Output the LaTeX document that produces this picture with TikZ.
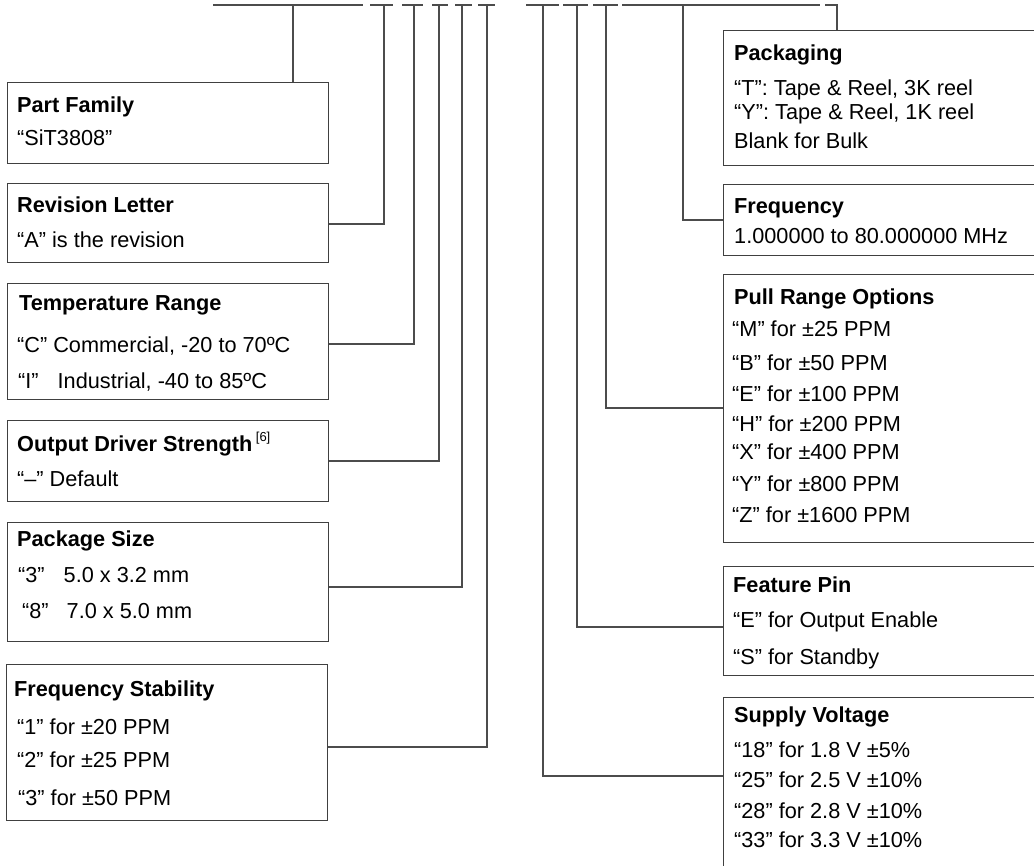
\documentclass[tikz,border=0pt]{standalone}
\usepackage{fontspec}
\setmainfont{Liberation Sans}
\tikzset{
  box/.style={draw=black!75, line width=1.2pt, inner sep=0pt, anchor=north west},
  wire/.style={black!70, line width=1.2pt},
  txt/.style={inner sep=0pt, anchor=base west, font=\fontsize{21.7}{26}\selectfont},
  hd/.style={txt, font=\fontsize{21.7}{26}\selectfont\bfseries},
}
\begin{document}
\begin{tikzpicture}[x=1pt, y=-1pt]
        \useasboundingbox (0,0) rectangle (1034,866);
        \clip (0,0) rectangle (1034,866);

        %code fields
        \draw[wire] (213,5) -- (363,5);
        \draw[wire] (370,5) -- (393,5);
        \draw[wire] (402,5) -- (423,5);
        \draw[wire] (432,5) -- (448,5);
        \draw[wire] (455,5) -- (472,5);
        \draw[wire] (478,5) -- (495,5);
        \draw[wire] (526,5) -- (559,5);
        \draw[wire] (563,5) -- (588,5);
        \draw[wire] (593,5) -- (618,5);
        \draw[wire] (622,5) -- (820,5);
        \draw[wire] (825,5) -- (838,5);

        \coordinate (tFam) at (293,5);
        \coordinate (tRev) at (384,5);
        \coordinate (tTemp) at (414,5);
        \coordinate (tDrv) at (439,5);
        \coordinate (tPkg) at (462,5);
        \coordinate (tStab) at (487,5);
        \coordinate (tVdd) at (543,5);
        \coordinate (tPin) at (577,5);
        \coordinate (tPull) at (606,5);
        \coordinate (tFreq) at (683,5);
        \coordinate (tPack) at (837,5);

        %left boxes
        \node[box, minimum width=321pt, minimum height=81pt] (fam) at (7,82) {};
        \node[box, minimum width=321pt, minimum height=79pt] (rev) at (7,183) {};
        \node[box, minimum width=321pt, minimum height=116pt] (temp) at (7,283) {};
        \node[box, minimum width=321pt, minimum height=81pt] (drv) at (7,420) {};
        \node[box, minimum width=321pt, minimum height=119pt] (pkg) at (7,522) {};
        \node[box, minimum width=321pt, minimum height=156pt] (stab) at (6,664) {};

        %right boxes
        \node[box, minimum width=340pt, minimum height=135pt] (packg) at (723,30) {};
        \node[box, minimum width=340pt, minimum height=71pt] (freq) at (723,184) {};
        \node[box, minimum width=340pt, minimum height=268pt] (pull) at (723,274) {};
        \node[box, minimum width=340pt, minimum height=109pt] (pin) at (723,566) {};
        \node[box, minimum width=340pt, minimum height=200pt] (vdd) at (723,697) {};

        %texts
        \node[hd] (famH) at (17,113) {Part Family};
        \node[txt] (famA) at (17,146) {“SiT3808”};

        \node[hd] (revH) at (17,213) {Revision Letter};
        \node[txt] (revA) at (17,248) {“A” is the revision};

        \node[hd] (tempH) at (19,311) {Temperature Range};
        \node[txt] (tempA) at (17,353) {“C” Commercial, -20 to 70ºC};
        \node[txt] (tempB) at (18,389) {“I”\hspace{19pt}Industrial, -40 to 85ºC};

        \node[hd] (drvH) at (17,452) {Output Driver Strength\,\raisebox{10pt}{\fontsize{13}{13}\selectfont\mdseries [6]}};
        \node[txt] (drvA) at (17,486) {“–” Default};

        \node[hd] (pkgH) at (17,546) {Package Size};
        \node[txt] (pkgA) at (18,582) {“3”\hspace{19pt}5.0 x 3.2 mm};
        \node[txt] (pkgB) at (22,618) {“8”\hspace{18pt}7.0 x 5.0 mm};

        \node[hd] (stabH) at (14,696) {Frequency Stability};
        \node[txt] (stabA) at (17,734) {“1” for ±20 PPM};
        \node[txt] (stabB) at (17,767) {“2” for ±25 PPM};
        \node[txt] (stabC) at (18,805) {“3” for ±50 PPM};

        \node[hd] (packgH) at (734,61) {Packaging};
        \node[txt] (packgA) at (734,96) {“T”: Tape \& Reel, 3K reel};
        \node[txt] (packgB) at (734,120) {“Y”: Tape \& Reel, 1K reel};
        \node[txt] (packgC) at (734,149) {Blank for Bulk};

        \node[hd] (freqH) at (734,214) {Frequency};
        \node[txt] (freqA) at (734,244) {1.000000 to 80.000000 MHz};

        \node[hd] (pullH) at (734,305) {Pull Range Options};
        \node[txt] (pullA) at (732,337) {“M” for ±25 PPM};
        \node[txt] (pullB) at (732,371) {“B” for ±50 PPM};
        \node[txt] (pullC) at (732,402) {“E” for ±100 PPM};
        \node[txt] (pullD) at (732,432) {“H” for ±200 PPM};
        \node[txt] (pullE) at (732,460) {“X” for ±400 PPM};
        \node[txt] (pullF) at (732,492) {“Y” for ±800 PPM};
        \node[txt] (pullG) at (732,522) {“Z” for ±1600 PPM};

        \node[hd] (pinH) at (733,592) {Feature Pin};
        \node[txt] (pinA) at (733,627) {“E” for Output Enable};
        \node[txt] (pinB) at (733,664) {“S” for Standby};

        \node[hd] (vddH) at (734,722) {Supply Voltage};
        \node[txt] (vddA) at (734,757) {“18” for 1.8 V ±5\%};
        \node[txt] (vddB) at (734,787) {“25” for 2.5 V ±10\%};
        \node[txt] (vddC) at (734,818) {“28” for 2.8 V ±10\%};
        \node[txt] (vddD) at (734,847) {“33” for 3.3 V ±10\%};

        %connectors
        \draw[wire] (tFam) -- (tFam |- fam.north);
        \draw[wire] (tRev) |- (rev.east |- 0,224);
        \draw[wire] (tTemp) |- (temp.east |- 0,344);
        \draw[wire] (tDrv) |- (drv.east |- 0,461);
        \draw[wire] (tPkg) |- (pkg.east |- 0,587);
        \draw[wire] (tStab) |- (stab.east |- 0,747);
        \draw[wire] (tPack) -- (tPack |- packg.north);
        \draw[wire] (tFreq) |- (freq.west |- 0,220);
        \draw[wire] (tPull) |- (pull.west |- 0,408);
        \draw[wire] (tPin) |- (pin.west |- 0,627);
        \draw[wire] (tVdd) |- (vdd.west |- 0,776);

    \end{tikzpicture}
\end{document}
